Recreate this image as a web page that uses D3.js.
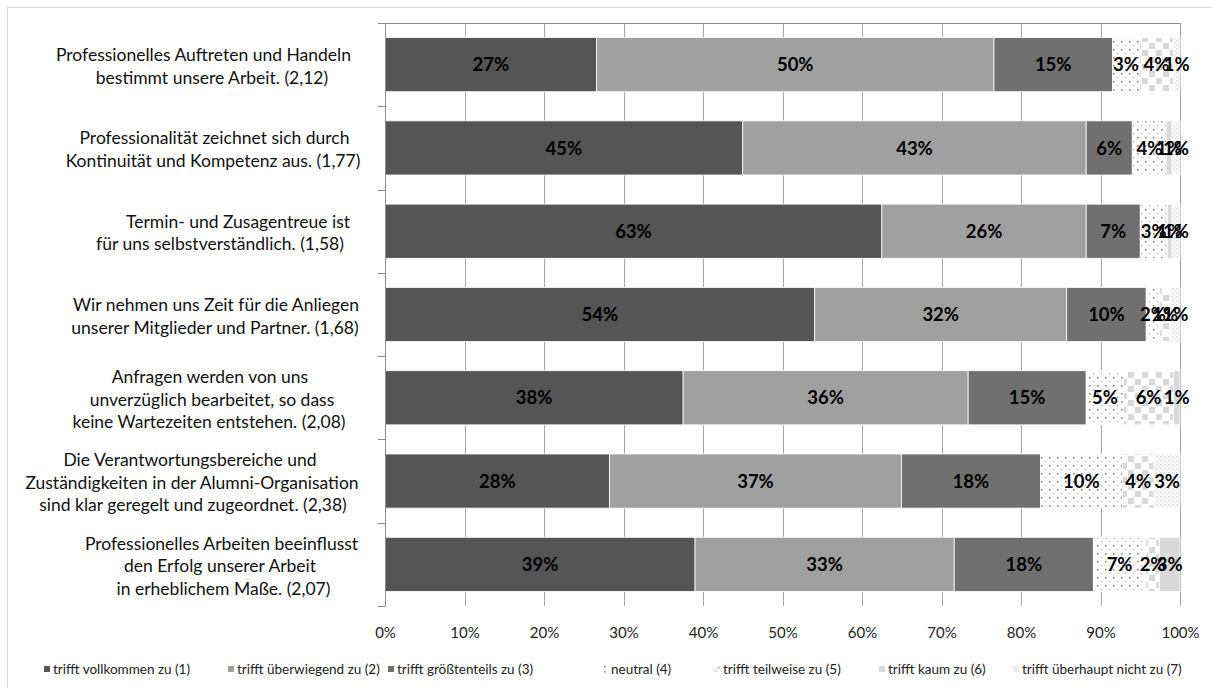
<!DOCTYPE html>
<html><head><meta charset="utf-8">
<script src="https://cdn.jsdelivr.net/npm/d3@7"></script>
<style>
html,body{margin:0;padding:0;background:#fff;}
svg{display:block;}
text{font-family:Lato,"Open Sans",sans-serif;}
</style></head>
<body>
<svg id="chart" width="1212" height="688"></svg>
<script>
// ---- data ----
const categories = [
  ["Professionelles Auftreten und Handeln", "bestimmt unsere Arbeit. (2,12)"],
  ["Professionalität zeichnet sich durch", "Kontinuität und Kompetenz aus. (1,77)"],
  ["Termin- und Zusagentreue ist", "für uns selbstverständlich. (1,58)"],
  ["Wir nehmen uns Zeit für die Anliegen", "unserer Mitglieder und Partner. (1,68)"],
  ["Anfragen werden von uns", "unverzüglich bearbeitet, so dass", "keine Wartezeiten entstehen.  (2,08)"],
  ["Die Verantwortungsbereiche und", "Zuständigkeiten in der Alumni-Organisation", "sind klar geregelt und zugeordnet. (2,38)"],
  ["Professionelles Arbeiten beeinflusst", "den Erfolg unserer Arbeit", "in erheblichem Maße. (2,07)"]
];
const seriesNames = ["trifft vollkommen zu (1)", "trifft überwiegend zu (2)", "trifft größtenteils zu (3)",
  "neutral (4)", "trifft teilweise zu (5)", "trifft kaum zu (6)", "trifft überhaupt nicht zu (7)"];
const s1 = [26.6, 45.0, 62.5, 54.05, 37.5, 28.25, 39.0];
const s2 = [50.0, 43.2, 25.7, 31.7, 35.85, 36.7, 32.6];
const s3 = [14.9, 5.8, 6.8, 10.0, 14.85, 17.5, 17.5];
const s4 = [3.4, 4.3, 3.4, 1.7, 4.7, 10.3, 6.6];
const s5 = [4.3, null, null, 1.4, 6.3, 4.0, 1.7];
const s6 = [null, 0.7, 0.6, null, 0.8, null, 2.6];
const s7 = [0.8, 1.0, 1.0, 1.15, null, 3.25, null];
const tickValues = [0, 10, 20, 30, 40, 50, 60, 70, 80, 90, 100];

// ---- layout ----
const X0 = 385, X1 = 1180, Y0 = 23, Y1 = 606;
const legendX = [44, 228, 388, 602, 714, 879, 1013];
const lineCenters = [[203.5, 212], [214.5, 213], [238, 220], [216, 215], [210, 212, 209], [190, 192, 193], [221.5, 220, 223.5]];

const seriesVals = [s1, s2, s3, s4, s5, s6, s7];
const rows = categories.map((c, i) => {
  const o = {idx: i};
  seriesVals.forEach((s, k) => o["s" + k] = s[i] == null ? 0 : s[i]);
  return o;
});
const keys = seriesVals.map((s, k) => "s" + k);
const stack = d3.stack().keys(keys)(rows);

const svg = d3.select("#chart");
const defs = svg.append("defs");

// patterns
const pDot = defs.append("pattern").attr("id", "pDot").attr("patternUnits", "userSpaceOnUse")
  .attr("width", 8).attr("height", 8);
pDot.append("rect").attr("width", 8).attr("height", 8).attr("fill", "#fff");
pDot.append("rect").attr("x", 1).attr("y", 1).attr("width", 1.6).attr("height", 1.6).attr("fill", "#8a8a8a");
pDot.append("rect").attr("x", 5).attr("y", 5).attr("width", 1.2).attr("height", 1.2).attr("fill", "#b0b0b0");

const pChk = defs.append("pattern").attr("id", "pChk").attr("patternUnits", "userSpaceOnUse")
  .attr("width", 14).attr("height", 14);
pChk.append("rect").attr("width", 14).attr("height", 14).attr("fill", "#fff");
pChk.append("rect").attr("x", 1).attr("y", 1).attr("width", 6).attr("height", 6).attr("fill", "#d9d9d9");
pChk.append("rect").attr("x", 8).attr("y", 8).attr("width", 6).attr("height", 6).attr("fill", "#d9d9d9");

const pFine = defs.append("pattern").attr("id", "pFine").attr("patternUnits", "userSpaceOnUse")
  .attr("width", 4).attr("height", 4);
pFine.append("rect").attr("width", 4).attr("height", 4).attr("fill", "#fbfbfb");
pFine.append("rect").attr("x", 0).attr("y", 0).attr("width", 1.5).attr("height", 1.5).attr("fill", "#dcdcdc");
pFine.append("rect").attr("x", 2).attr("y", 2).attr("width", 1.5).attr("height", 1.5).attr("fill", "#e6e6e6");

const fills = ["#555555", "#a0a0a0", "#707070", "url(#pDot)", "url(#pChk)", "#d9d9d9", "url(#pFine)"];

// outer border
svg.append("rect").attr("x", 7.5).attr("y", 7.5).attr("width", 1220).attr("height", 700)
  .attr("fill", "none").attr("stroke", "#d9d9d9");

const x = d3.scaleLinear().domain([0, 100]).range([X0, X1]);
const y = d3.scaleBand().domain(d3.range(categories.length)).range([Y0, Y1]).paddingInner(0.35).paddingOuter(0.175);
const yStep = (Y1 - Y0) / categories.length;

// gridlines
svg.append("g").selectAll("line").data(tickValues.filter(t => t > 0)).join("line")
  .attr("x1", d => Math.round(x(d)) + 0.5).attr("x2", d => Math.round(x(d)) + 0.5)
  .attr("y1", Y0).attr("y2", Y1)
  .attr("stroke", "#a6a6a6").attr("stroke-width", 1);

// top line
svg.append("line").attr("x1", X0).attr("x2", X1).attr("y1", Y0 + 0.5).attr("y2", Y0 + 0.5)
  .attr("stroke", "#8c8c8c").attr("stroke-width", 1);

// bars
const g = svg.append("g");
stack.forEach((layer, k) => {
  g.append("g").selectAll("rect").data(layer.filter((d, i) => seriesVals[k][i] != null)).join("rect")
    .attr("x", d => x(d[0]))
    .attr("width", d => x(d[1]) - x(d[0]))
    .attr("y", d => y(d.data.idx))
    .attr("height", y.bandwidth())
    .attr("fill", fills[k])
    .attr("stroke", "#fff").attr("stroke-width", 0.8);
});

// left axis
const yAxisG = svg.append("g");
yAxisG.append("line").attr("x1", X0 + 0.5).attr("x2", X0 + 0.5).attr("y1", Y0).attr("y2", Y1)
  .attr("stroke", "#8c8c8c");
yAxisG.selectAll("line.tk").data(d3.range(categories.length + 1)).join("line").attr("class", "tk")
  .attr("x1", X0 - 7).attr("x2", X0)
  .attr("y1", i => Math.round(Y0 + i * yStep) + 0.5).attr("y2", i => Math.round(Y0 + i * yStep) + 0.5)
  .attr("stroke", "#8c8c8c");

// data labels
stack.forEach((layer, k) => {
  g.append("g").selectAll("text").data(layer.filter((d, i) => seriesVals[k][i] != null)).join("text")
    .attr("x", d => (x(d[0]) + x(d[1])) / 2)
    .attr("y", d => y(d.data.idx) + y.bandwidth() / 2)
    .attr("dy", "0.36em")
    .attr("text-anchor", "middle")
    .attr("font-size", 18.5).attr("font-weight", "bold").attr("fill", "#000")
    .text(d => Math.round(d[1] - d[0]) + "%");
});

// x tick labels
const xAxis = d3.axisBottom(x).tickValues(tickValues).tickFormat(d => d + "%").tickSize(0).tickPadding(0);
const xg = svg.append("g").attr("transform", `translate(0,${Y1})`).call(xAxis);
xg.select(".domain").remove();
xg.selectAll("text").attr("font-family", "Lato").attr("font-size", 15).attr("fill", "#222")
  .attr("y", 27).attr("dy", "0.36em");

// category labels
const lineH = 22.5;
const catG = svg.append("g");
categories.forEach((lines, i) => {
  const cy = Y0 + (i + 0.5) * yStep + 1.5;
  const t = catG.append("text").attr("font-size", 17.5).attr("fill", "#111").attr("text-anchor", "middle");
  lines.forEach((ln, j) => {
    t.append("tspan").attr("x", lineCenters[i][j]).attr("y", cy + (j - (lines.length - 1) / 2) * lineH)
      .attr("dy", "0.36em").text(ln);
  });
});

// legend
const lg = svg.append("g");
seriesNames.forEach((n, k) => {
  const lx = legendX[k];
  const mk = lg.append("g");
  if (k === 3) {
    mk.append("rect").attr("x", lx + 2).attr("y", 666).attr("width", 1.6).attr("height", 1.6).attr("fill", "#888");
    mk.append("rect").attr("x", lx + 2).attr("y", 671).attr("width", 1.6).attr("height", 1.6).attr("fill", "#888");
  } else if (k === 4) {
    mk.append("rect").attr("x", lx + 3).attr("y", 666).attr("width", 3).attr("height", 3).attr("fill", "#d9d9d9");
    mk.append("rect").attr("x", lx).attr("y", 669).attr("width", 3).attr("height", 3).attr("fill", "#e6e6e6");
  } else if (k === 6) {
    mk.append("rect").attr("x", lx).attr("y", 666).attr("width", 6).attr("height", 6).attr("fill", "#ececec");
  } else {
    mk.append("rect").attr("x", lx).attr("y", 666).attr("width", 6).attr("height", 6).attr("fill", fills[k]);
  }
  lg.append("text").attr("x", lx + 9).attr("y", 669.5).attr("dy", "0.36em")
    .attr("font-size", 13.5).attr("fill", "#222").text(n);
});
</script>
</body></html>
